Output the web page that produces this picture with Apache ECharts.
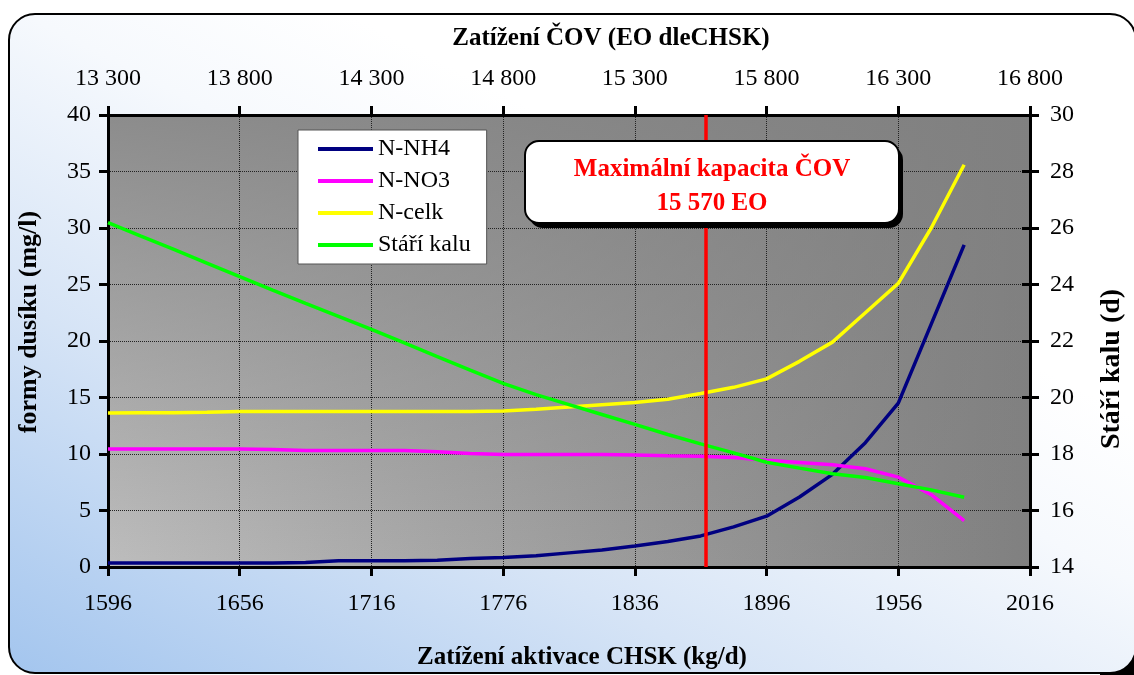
<!DOCTYPE html>
<html>
<head>
<meta charset="utf-8">
<script src="https://cdn.jsdelivr.net/npm/echarts@6/dist/echarts.min.js"></script>
<style>
html,body{margin:0;padding:0;background:#fff;overflow:hidden;}
#chart{width:1134px;height:675px;}
</style>
</head>
<body>
<div id="chart"></div>
<script>
// ---- data ----
const loadKg = [1596,1611,1626,1641,1656,1671,1686,1701,1716,1731,1746,1761,1776,1791,1806,1821,1836,1851,1866,1881,1896,1911,1926,1941,1956,1971,1986];
const nNH4   = [0.35,0.35,0.35,0.35,0.35,0.35,0.4,0.55,0.55,0.55,0.6,0.75,0.85,1.0,1.25,1.5,1.85,2.25,2.75,3.55,4.5,6.2,8.2,11.0,14.5,21.5,28.5];
const nNO3   = [10.45,10.45,10.45,10.45,10.45,10.4,10.3,10.3,10.3,10.3,10.2,10.05,9.95,9.95,9.95,9.95,9.92,9.85,9.8,9.7,9.45,9.25,9.05,8.7,7.95,6.4,4.1];
const nCelk  = [13.62,13.65,13.65,13.7,13.77,13.77,13.77,13.77,13.77,13.77,13.77,13.77,13.8,13.95,14.15,14.35,14.55,14.85,15.35,15.9,16.65,18.2,19.9,22.5,25.1,30.0,35.6];
const sludgeAge = [26.19,25.71,25.24,24.76,24.28,23.8,23.33,22.87,22.41,21.93,21.45,20.97,20.5,20.1,19.75,19.4,19.05,18.69,18.36,18.04,17.71,17.5,17.3,17.17,16.95,16.73,16.47];
const seriesNames = ['N-NH4','N-NO3','N-celk','Stáří kalu'];
const maxCapacityEO = 15570;
const capacityLabel = ['Maximální kapacita ČOV', '15 570 EO'];
const xTitleBottom = 'Zatížení aktivace CHSK (kg/d)';
const xTitleTop = 'Zatížení ČOV (EO dleCHSK)';
const yTitleLeft = 'formy dusíku (mg/l)';
const yTitleRight = 'Stáří kalu (d)';

const zip = (xs, ys) => xs.map((x, i) => [x, ys[i]]);
const FONT = 'Liberation Serif';
const fmtSpace = v => String(v).replace(/\B(?=(\d{3})+(?!\d))/g, ' ');
const fmtPlain = v => String(v);

const chart = echarts.init(document.getElementById('chart'));
const W = 1134, H = 675;
const G = {left:108, top:115, right:102, bottom:107};
const PW = W - G.left - G.right, PH = H - G.top - G.bottom;
const axisLine = {show:true, onZero:false, lineStyle:{color:'#000', width:3}};
const tickOut = {show:true, length:9, lineStyle:{color:'#000', width:3}};
const tickIn = {show:true, inside:true, length:8, lineStyle:{color:'#000', width:3}};
const lbl = {color:'#000', fontFamily:FONT, fontSize:24};
const nameStyle = (size) => ({color:'#000', fontFamily:FONT, fontSize:size, fontWeight:'bold'});

const option = {
  animation:false,
  backgroundColor:'#fff',
  graphic:{elements:[
    {type:'rect', z:-101, shape:{x:1100, y:640, width:40, height:40}, style:{fill:'#000'}},
    {type:'rect', z:-100, shape:{x:9, y:14, width:1127, height:659, r:26},
     style:{fill:{type:'linear', x:0, y:1, x2:0.3, y2:0, colorStops:[
        {offset:0, color:'#a3c5ee'},{offset:0.45, color:'#d6e4f6'},{offset:0.8, color:'#f6f9fd'},{offset:1, color:'#ffffff'}]},
        stroke:'#000', lineWidth:2}},
    {type:'rect', z:-60, shape:{x:G.left, y:G.top, width:PW, height:PH},
     style:{fill:{type:'linear', x:0, y:0, x2:1, y2:0, colorStops:[
        {offset:0, color:'#bdbdbd'},{offset:1, color:'#808080'}]}}},
    {type:'rect', z:-55, shape:{x:G.left, y:G.top, width:PW, height:PH},
     style:{fill:{type:'linear', x:0, y:1, x2:0, y2:0, colorStops:[
        {offset:0, color:'rgba(128,128,128,0)'},{offset:1, color:'rgba(128,128,128,0.8)'}]}}},
    {type:'rect', z:100, shape:{x:529, y:146, width:374, height:82, r:14}, style:{fill:'#000'}},
    {type:'rect', z:101, shape:{x:525, y:141, width:374, height:82, r:14}, style:{fill:'#fff', stroke:'#000', lineWidth:2}},
    {type:'text', z:102, x:712, y:170, style:{text:capacityLabel[0], fill:'#ff0000', font:'bold 25px "Liberation Serif"', textAlign:'center', textVerticalAlign:'middle'}},
    {type:'text', z:102, x:712, y:204, style:{text:capacityLabel[1], fill:'#ff0000', font:'bold 25px "Liberation Serif"', textAlign:'center', textVerticalAlign:'middle'}}
  ]},
  grid:{left:G.left, top:G.top, right:G.right, bottom:G.bottom, show:false},
  legend:{
    data:seriesNames, orient:'vertical', left:298, top:130,
    backgroundColor:'#fff', borderColor:'#555', borderWidth:1,
    padding:[7,16,7,20], itemGap:8, itemWidth:55, itemHeight:4, icon:'rect',
    textStyle:{color:'#000', fontFamily:FONT, fontSize:24}
  },
  xAxis:[
    {type:'value', position:'bottom', min:1596, max:2016, interval:60,
     name:xTitleBottom, nameLocation:'middle', nameGap:78,
     nameTextStyle:Object.assign({padding:[0,0,0,26]}, nameStyle(25)),
     axisLine:axisLine, axisTick:tickOut,
     axisLabel:Object.assign({margin:25, formatter:fmtPlain}, lbl),
     splitLine:{show:true, lineStyle:{color:'#222', width:1, type:'dotted'}}},
    {type:'value', position:'top', min:13300, max:16800, interval:500,
     name:xTitleTop, nameLocation:'middle', nameGap:64,
     nameTextStyle:Object.assign({padding:[0,0,0,84]}, nameStyle(25)),
     axisLine:axisLine, axisTick:tickOut,
     axisLabel:Object.assign({margin:24, formatter:fmtSpace}, lbl),
     splitLine:{show:false}},
    {type:'value', position:'top', min:13300, max:16800, interval:500,
     axisLine:{show:false}, axisTick:tickIn, axisLabel:{show:false}, splitLine:{show:false}}
  ],
  yAxis:[
    {type:'value', position:'left', min:0, max:40, interval:5,
     name:yTitleLeft, nameLocation:'middle', nameGap:66, nameRotate:90,
     nameTextStyle:Object.assign({padding:[0,0,0,38]}, nameStyle(26)),
     axisLine:axisLine, axisTick:tickOut,
     axisLabel:Object.assign({margin:17, formatter:fmtPlain}, lbl),
     splitLine:{show:true, lineStyle:{color:'#222', width:1, type:'dotted'}}},
    {type:'value', position:'right', min:14, max:30, interval:2,
     name:yTitleRight, nameLocation:'middle', nameGap:68, nameRotate:90,
     nameTextStyle:Object.assign({padding:[0,56,0,0]}, nameStyle(28)),
     axisLine:axisLine, axisTick:tickOut,
     axisLabel:Object.assign({margin:20, formatter:fmtPlain}, lbl),
     splitLine:{show:false}},
    {type:'value', position:'right', min:14, max:30, interval:2,
     axisLine:{show:false}, axisTick:tickIn, axisLabel:{show:false}, splitLine:{show:false}}
  ],
  series:[
    {name:seriesNames[0], type:'line', xAxisIndex:0, yAxisIndex:0, data:zip(loadKg, nNH4), symbol:'none',
     color:'#000080', lineStyle:{width:3.5, color:'#000080'}},
    {name:seriesNames[1], type:'line', xAxisIndex:0, yAxisIndex:0, data:zip(loadKg, nNO3), symbol:'none',
     color:'#ff00ff', lineStyle:{width:3.5, color:'#ff00ff'}},
    {name:seriesNames[2], type:'line', xAxisIndex:0, yAxisIndex:0, data:zip(loadKg, nCelk), symbol:'none',
     color:'#ffff00', lineStyle:{width:3.5, color:'#ffff00'}},
    {name:seriesNames[3], type:'line', xAxisIndex:0, yAxisIndex:1, data:zip(loadKg, sludgeAge), symbol:'none',
     color:'#00ff00', lineStyle:{width:3.5, color:'#00ff00'}},
    {name:'capacity', type:'line', xAxisIndex:1, yAxisIndex:0, data:[], symbol:'none',
     markLine:{silent:true, symbol:'none', label:{show:false},
       lineStyle:{color:'#ff0000', width:3.5, type:'solid'},
       data:[{xAxis:maxCapacityEO}]}}
  ]
};
chart.setOption(option);
</script>
</body>
</html>
